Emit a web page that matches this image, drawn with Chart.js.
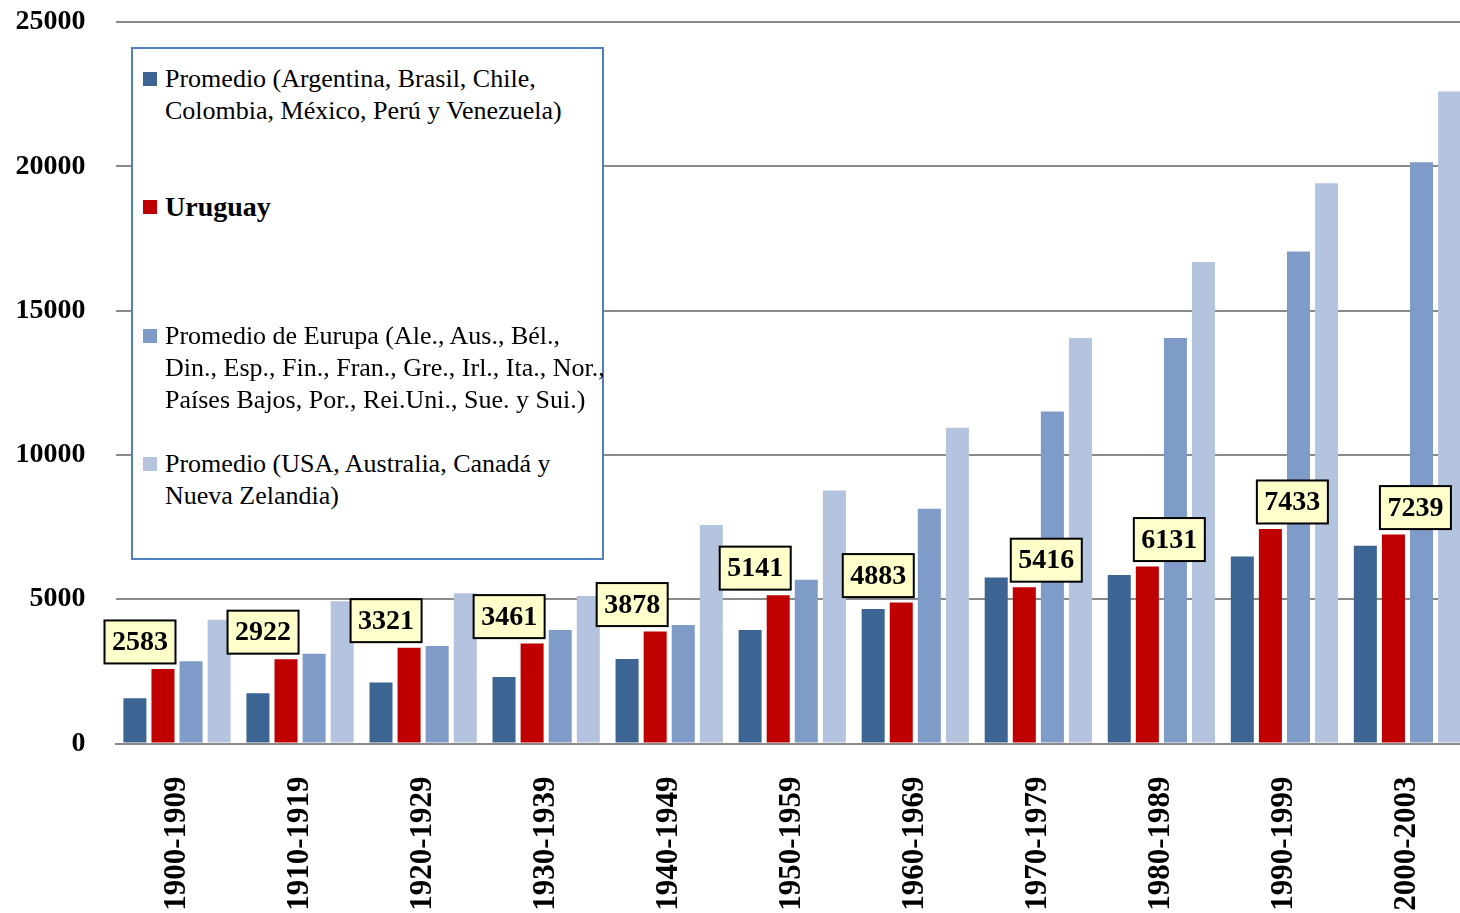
<!DOCTYPE html>
<html>
<head>
<meta charset="utf-8">
<script src="https://cdn.jsdelivr.net/npm/chart.js@4.4.1/dist/chart.umd.min.js"></script>
<style>
  html, body { margin: 0; padding: 0; overflow: hidden; background: #fff; }
  #wrap { position: relative; width: 1469px; height: 913px; }
  #legend {
    position: absolute; left: 131px; top: 47px; width: 469px; height: 509px;
    border: 2px solid #4f81bd; background: #fff;
    font-family: "Liberation Serif", "Times New Roman", serif; color: #000;
  }
  .item { position: absolute; left: 32px; font-size: 26px; line-height: 32px; white-space: nowrap; }
  .item.bold { font-weight: bold; font-size: 28px; }
  .mark { position: absolute; left: -22px; top: 9px; width: 14px; height: 14px; }
</style>
</head>
<body>
<div id="wrap">
  <canvas id="myChart" width="1469" height="913"></canvas>
  <div id="legend"></div>
</div>
<script>
const periods = ["1900-1909", "1910-1919", "1920-1929", "1930-1939", "1940-1949", "1950-1959",
  "1960-1969", "1970-1979", "1980-1989", "1990-1999", "2000-2003"];
const latinAmerica = [1570, 1740, 2110, 2300, 2930, 3930, 4660, 5750, 5840, 6480, 6850];
const uruguay = [2583, 2922, 3321, 3461, 3878, 5141, 4883, 5416, 6131, 7433, 7239];
const europe = [2850, 3110, 3380, 3930, 4110, 5670, 8130, 11500, 14050, 17050, 20140];
const offshoots = [4290, 4930, 5210, 5110, 7570, 8770, 10940, 14050, 16680, 19410, 22590];
const yTicks = [0, 5000, 10000, 15000, 20000, 25000];

const seriesNames = [
  ["Promedio (Argentina, Brasil, Chile,", "Colombia, México, Perú y Venezuela)"],
  ["Uruguay"],
  ["Promedio de Eurupa (Ale., Aus., Bél.,", "Din., Esp., Fin., Fran., Gre., Irl., Ita., Nor.,", "Países Bajos, Por., Rei.Uni., Sue. y Sui.)"],
  ["Promedio (USA, Australia, Canadá y", "Nueva Zelandia)"],
];
const colors = ["#3d6594", "#c00000", "#7f9cc8", "#b5c4de"];
// which side of the red bar each label box hugs
const labelSide = ["right", "right", "right", "right", "right", "right", "right", "left", "left", "left", "left"];

const serif = '"Liberation Serif", "Times New Roman", serif';
const ctx = document.getElementById("myChart").getContext("2d");

const valueBoxes = {
  id: "valueBoxes",
  afterDatasetsDraw(chart) {
    const meta = chart.getDatasetMeta(1);
    const c = chart.ctx;
    c.save();
    c.font = "bold 28px " + serif;
    c.textAlign = "center";
    c.textBaseline = "middle";
    meta.data.forEach((bar, i) => {
      const w = 71, h = 43;
      const half = bar.width / 2;
      const left = labelSide[i] === "right" ? bar.x + half + 1 - w : bar.x - half - 2;
      const top = bar.y - 5.5 - h;
      c.fillStyle = "#ffffcc";
      c.fillRect(left, top, w, h);
      c.lineWidth = 2;
      c.strokeStyle = "#000";
      c.strokeRect(left, top, w, h);
      c.fillStyle = "#000";
      c.fillText(String(uruguay[i]), left + w / 2, top + h / 2 + 1);
    });
    c.restore();
  },
};

const noPad = (scale) => {
  scale.paddingTop = 0;
  scale.paddingBottom = 0;
  scale.paddingLeft = 0;
  scale.paddingRight = 0;
};

new Chart(ctx, {
  type: "bar",
  data: {
    labels: periods,
    datasets: [latinAmerica, uruguay, europe, offshoots].map((d, i) => ({
      label: seriesNames[i].join(" "),
      data: d,
      backgroundColor: colors[i],
      categoryPercentage: 0.913,
      barPercentage: 0.82,
    })),
  },
  options: {
    responsive: false,
    animation: false,
    devicePixelRatio: 1,
    layout: { padding: { top: 22, right: 0, left: 0, bottom: 0 } },
    plugins: { legend: { display: false }, tooltip: { enabled: false } },
    scales: {
      x: {
        grid: { display: false, drawTicks: false },
        border: { display: true, color: "#8a8a8a", width: 2 },
        ticks: {
          color: "#000",
          font: { family: serif, size: 31, weight: "bold" },
          minRotation: 90,
          maxRotation: 90,
          padding: 33,
          autoSkip: false,
        },
        afterFit: (scale) => { scale.height = 169.5; noPad(scale); },
      },
      y: {
        min: yTicks[0],
        max: yTicks[yTicks.length - 1],
        grid: { color: "#8a8a8a", lineWidth: 2, drawTicks: false },
        border: { display: false },
        ticks: {
          stepSize: yTicks[1] - yTicks[0],
          callback: (v) => String(v),
          color: "#000",
          font: { family: serif, size: 28, weight: "bold" },
          padding: 30,
        },
        afterFit: (scale) => { scale.width = 115.5; noPad(scale); },
      },
    },
  },
  plugins: [valueBoxes],
});

// legend drawn as html box
const legendTops = [14, 142, 271, 399];
const legend = document.getElementById("legend");
seriesNames.forEach((lines, i) => {
  const item = document.createElement("div");
  item.className = "item" + (i === 1 ? " bold" : "");
  item.style.top = legendTops[i] + "px";
  item.innerHTML = `<span class="mark" style="background:${colors[i]}"></span>` + lines.join("<br>");
  legend.appendChild(item);
});
</script>
</body>
</html>
